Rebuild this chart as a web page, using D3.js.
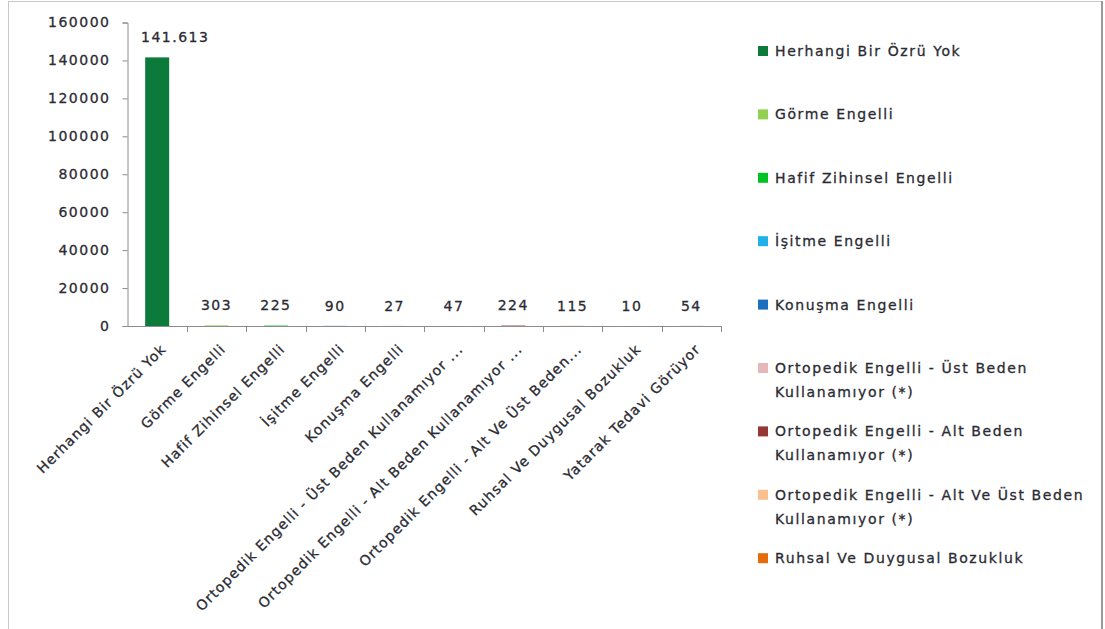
<!DOCTYPE html>
<html>
<head>
<meta charset="utf-8">
<script src="https://cdn.jsdelivr.net/npm/d3@7"></script>
<style>
  body { margin: 0; background: #fff; }
  svg { display: block; }
  text { font-family: "DejaVu Sans", Verdana, sans-serif; fill: #2b2b33; stroke: #2b2b33; stroke-width: 0.3px; }
</style>
</head>
<body>
<div id="chart"></div>
<script>
// categories (axis labels, some cut short like in the original)
var categories = ["Herhangi Bir Özrü Yok", "Görme Engelli", "Hafif Zihinsel Engelli", "İşitme Engelli",
  "Konuşma Engelli", "Ortopedik Engelli - Üst Beden Kullanamıyor (*)", "Ortopedik Engelli - Alt Beden Kullanamıyor (*)",
  "Ortopedik Engelli - Alt Ve Üst Beden Kullanamıyor (*)", "Ruhsal Ve Duygusal Bozukluk", "Yatarak Tedavi Görüyor"];
var axisLabels = ["Herhangi Bir Özrü Yok", "Görme Engelli", "Hafif Zihinsel Engelli", "İşitme Engelli",
  "Konuşma Engelli", "Ortopedik Engelli - Üst Beden Kullanamıyor ...", "Ortopedik Engelli - Alt Beden Kullanamıyor ...",
  "Ortopedik Engelli - Alt Ve Üst Beden...", "Ruhsal Ve Duygusal Bozukluk", "Yatarak Tedavi Görüyor"];
var values = [141613, 303, 225, 90, 27, 47, 224, 115, 10, 54];
var valueLabels = ["141.613", "303", "225", "90", "27", "47", "224", "115", "10", "54"];
var colors = ["#0b7a3b", "#92d050", "#00c221", "#1fb1e9", "#1d6fc0", "#e6b8b7", "#953735", "#fac090", "#e46c0a", "#7f7f7f"];
// legend only shows the lines that fit in the box
var legendLines = [["Herhangi Bir Özrü Yok"], ["Görme Engelli"], ["Hafif Zihinsel Engelli"], ["İşitme Engelli"],
  ["Konuşma Engelli"], ["Ortopedik Engelli - Üst Beden", "Kullanamıyor  (*)"], ["Ortopedik Engelli - Alt Beden", "Kullanamıyor  (*)"],
  ["Ortopedik Engelli - Alt Ve Üst Beden", "Kullanamıyor  (*)"], ["Ruhsal Ve Duygusal Bozukluk"]];
var yTicks = [0, 20000, 40000, 60000, 80000, 100000, 120000, 140000, 160000];

var w = 1105, h = 629;
var svg = d3.select("#chart").append("svg").attr("width", w).attr("height", h);

// outer frame
svg.append("rect").attr("x", 8.5).attr("y", 1.5).attr("width", 1093).attr("height", 700)
  .attr("fill", "none").style("stroke", "#c8c8c8");
svg.append("line").attr("x1", 1102).attr("x2", 1102).attr("y1", 1).attr("y2", h)
  .style("stroke", "#9a9a9a").style("stroke-width", "2px");

var plotLeft = 127.5, plotRight = 721, plotTop = 22.5, plotBottom = 326;
var x = d3.scaleBand().domain(categories).range([plotLeft, plotRight]).paddingInner(0).paddingOuter(0);
var y = d3.scaleLinear().domain([0, 160000]).range([plotBottom, plotTop]);
var barW = 24;

// y axis
var gy = svg.append("g").attr("transform", "translate(" + plotLeft + ",0)")
  .call(d3.axisLeft(y).tickValues(yTicks).tickSize(5).tickPadding(12).tickFormat(d3.format("d")));
gy.select(".domain").style("stroke", "#8c8c8c");
gy.selectAll(".tick line").style("stroke", "#8c8c8c");
gy.selectAll(".tick text").style("font-size", "14px").style("letter-spacing", "1.5px")
  .attr("fill", null).attr("font-family", null);

// x axis line and ticks at band edges
svg.append("line").attr("x1", plotLeft).attr("x2", plotRight).attr("y1", plotBottom + 0.5).attr("y2", plotBottom + 0.5)
  .style("stroke", "#8c8c8c");
svg.selectAll("line.xtick").data(categories).enter().append("line")
  .attr("class", "xtick")
  .attr("x1", function(d) { return Math.round(x(d) + x.bandwidth()) + 0.5; })
  .attr("x2", function(d) { return Math.round(x(d) + x.bandwidth()) + 0.5; })
  .attr("y1", plotBottom).attr("y2", plotBottom + 6)
  .style("stroke", "#8c8c8c");

// bars
svg.selectAll("rect.bar").data(categories).enter().append("rect")
  .attr("class", "bar")
  .attr("x", function(d) { return x(d) + (x.bandwidth() - barW) / 2; })
  .attr("width", barW)
  .attr("y", function(d, i) { return y(values[i]); })
  .attr("height", function(d, i) { return plotBottom - y(values[i]); })
  .attr("fill", function(d, i) { return colors[i]; });

// value labels (first one was nudged right in the original)
svg.selectAll("text.val").data(categories).enter().append("text")
  .attr("class", "val")
  .attr("x", function(d, i) { return x(d) + x.bandwidth() / 2 + (i == 0 ? 18 : 0); })
  .attr("y", function(d, i) { return y(values[i]) - 20; })
  .attr("dy", "0.35em")
  .attr("text-anchor", "middle")
  .style("font-size", "14px").style("letter-spacing", "1.5px")
  .text(function(d, i) { return valueLabels[i]; });

// rotated category labels
svg.selectAll("text.cat").data(categories).enter().append("text")
  .attr("class", "cat")
  .attr("transform", function(d) { return "translate(" + (x(d) + x.bandwidth() / 2 + 4) + "," + (plotBottom + 18) + ") rotate(-45)"; })
  .attr("text-anchor", "end")
  .attr("dy", "0.6em")
  .style("font-size", "14px").style("letter-spacing", "1.1px")
  .text(function(d, i) { return axisLabels[i]; });

// legend
var legY0 = 51, legStep = 63.4;
var leg = svg.selectAll("g.leg").data(legendLines).enter().append("g")
  .attr("class", "leg")
  .attr("transform", function(d, i) { return "translate(758," + (legY0 + i * legStep) + ")"; });
leg.append("rect").attr("x", 0).attr("y", -5).attr("width", 10).attr("height", 10)
  .attr("fill", function(d, i) { return colors[i]; });
leg.each(function(lines) {
  var t = d3.select(this).append("text").attr("x", 17).attr("y", 0)
    .style("font-size", "14px").style("letter-spacing", "1.6px");
  lines.forEach(function(l, j) {
    t.append("tspan").attr("x", 17).attr("y", j * 24).attr("dy", "0.35em").text(l);
  });
});
</script>
</body>
</html>
